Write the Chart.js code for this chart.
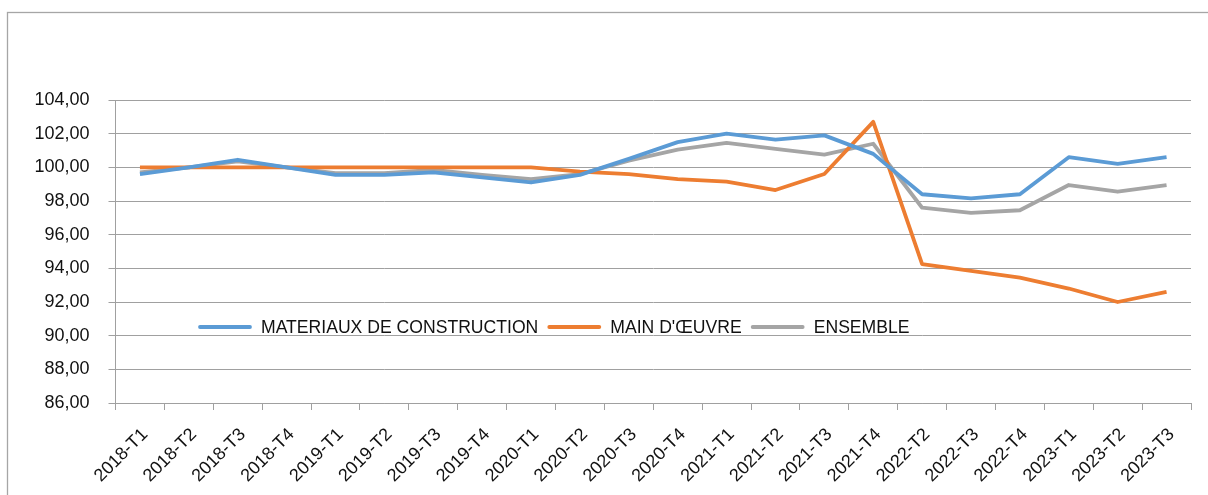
<!DOCTYPE html>
<html>
<head>
<meta charset="utf-8">
<script src="https://cdn.jsdelivr.net/npm/chart.js@4"></script>
<style>
  html, body { margin: 0; padding: 0; background: #fff; }
  #wrap { width: 1208px; height: 495px; position: relative; }
</style>
</head>
<body>
<div id="wrap"><canvas id="chart" width="1208" height="495"></canvas></div>
<script>
// trimestres (pas de 2022-T1 dans la source)
const quarters = ['2018-T1', '2018-T2', '2018-T3', '2018-T4', '2019-T1', '2019-T2', '2019-T3', '2019-T4',
  '2020-T1', '2020-T2', '2020-T3', '2020-T4', '2021-T1', '2021-T2', '2021-T3', '2021-T4',
  '2022-T2', '2022-T3', '2022-T4', '2023-T1', '2023-T2', '2023-T3'];

const materiaux = [99.6, 100.0, 100.45, 100.0, 99.55, 99.55, 99.7, 99.4, 99.1, 99.55, 100.5, 101.5,
  102.0, 101.65, 101.9, 100.8, 98.4, 98.15, 98.4, 100.6, 100.2, 100.6];
const mainOeuvre = [100.0, 100.0, 100.0, 100.0, 100.0, 100.0, 100.0, 100.0, 100.0, 99.75, 99.6, 99.3,
  99.15, 98.65, 99.6, 102.7, 94.25, 93.85, 93.45, 92.8, 92.0, 92.6];
const ensemble = [99.7, 100.0, 100.35, 100.0, 99.65, 99.65, 99.85, 99.55, 99.3, 99.6, 100.4, 101.05,
  101.45, 101.1, 100.75, 101.4, 97.6, 97.3, 97.45, 98.95, 98.55, 98.95];

const yMin = 86, yMax = 104, yStep = 2;

const FONT = "'Liberation Sans', Arial, sans-serif";
const GRID = '#a0a0a0';

// cadre gris autour du graphique
const framePlugin = {
  id: 'frame',
  beforeDraw(chart) {
    const ctx = chart.ctx;
    ctx.save();
    ctx.fillStyle = '#fff';
    ctx.fillRect(0, 0, chart.width, chart.height);
    ctx.strokeStyle = '#a6a6a6';
    ctx.lineWidth = 1.3;
    ctx.strokeRect(7.5, 12.5, 1220, 500);
    ctx.restore();
  }
};

// légende dessinée dans la zone du graphique
const innerLegend = {
  id: 'innerLegend',
  afterDatasetsDraw(chart) {
    const ctx = chart.ctx;
    let x = 200;
    const y = 327;
    ctx.save();
    ctx.font = '17.6px ' + FONT;
    ctx.textBaseline = 'middle';
    ctx.textAlign = 'left';
    chart.data.datasets.forEach(ds => {
      ctx.strokeStyle = ds.borderColor;
      ctx.lineWidth = 3.8;
      ctx.lineCap = 'round';
      ctx.beginPath();
      ctx.moveTo(x, y);
      ctx.lineTo(x + 50, y);
      ctx.stroke();
      x += 61;
      ctx.fillStyle = '#111';
      ctx.fillText(ds.label, x, y + 1);
      x += ctx.measureText(ds.label).width + 11;
    });
    ctx.restore();
  }
};

new Chart(document.getElementById('chart'), {
  type: 'line',
  data: {
    labels: quarters,
    datasets: [
      { label: 'MATERIAUX DE CONSTRUCTION', data: materiaux, borderColor: '#5B9BD5' },
      { label: "MAIN D'ŒUVRE", data: mainOeuvre, borderColor: '#ED7D31' },
      { label: 'ENSEMBLE', data: ensemble, borderColor: '#A5A5A5' }
    ]
  },
  options: {
    responsive: false,
    animation: false,
    layout: { padding: { top: 100, right: 17, left: 0, bottom: 0 } },
    elements: {
      line: { borderWidth: 3.8, tension: 0, borderJoinStyle: 'round' },
      point: { radius: 0 }
    },
    plugins: {
      legend: { display: false },
      tooltip: { enabled: false }
    },
    scales: {
      x: {
        offset: true,
        grid: { offset: true, drawOnChartArea: false, color: GRID, tickLength: 7 },
        border: { color: GRID },
        ticks: {
          color: '#111',
          font: { family: FONT, size: 18 },
          maxRotation: 45,
          minRotation: 45,
          autoSkip: false,
          padding: 14,
          labelOffset: 5
        },
        afterFit: s => { s.height = 92; }
      },
      y: {
        min: yMin,
        max: yMax,
        grid: { color: GRID, tickLength: 7 },
        border: { color: GRID },
        ticks: {
          stepSize: yStep,
          color: '#111',
          font: { family: FONT, size: 18 },
          padding: 19,
          callback: v => v.toFixed(2).replace('.', ',')
        },
        afterFit: s => { s.width = 115.5; }
      }
    }
  },
  plugins: [framePlugin, innerLegend]
});
</script>
</body>
</html>
